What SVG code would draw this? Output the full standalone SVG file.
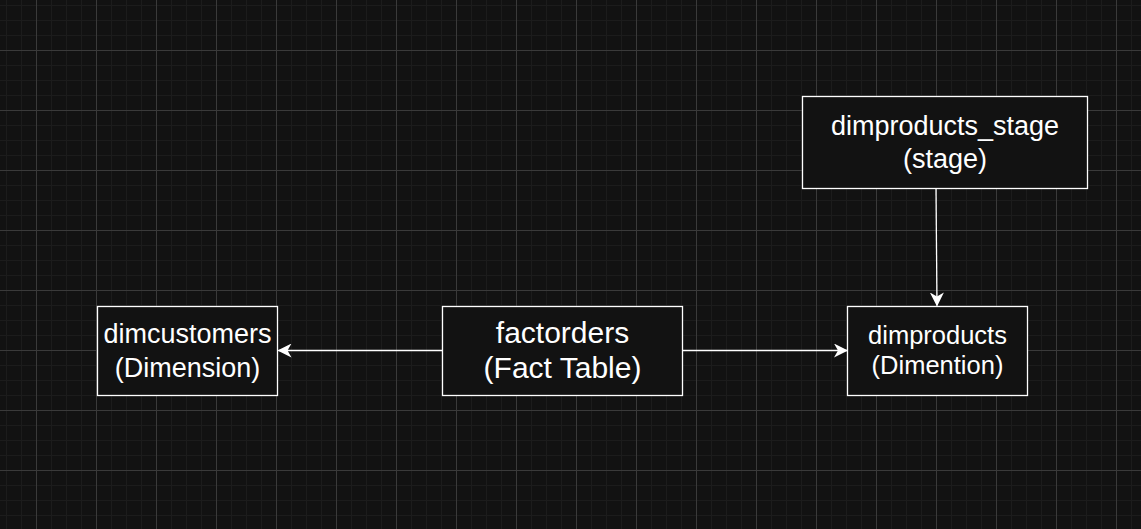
<svg xmlns="http://www.w3.org/2000/svg" width="1141" height="529" viewBox="0 0 1141 529">
<defs>
<pattern id="minor" x="6" y="5" width="15" height="15" patternUnits="userSpaceOnUse">
<path d="M0.5 0V15M0 0.5H15" stroke="#1c1c1c" stroke-width="1" fill="none"/>
</pattern>
<pattern id="major" x="36" y="50" width="60" height="60" patternUnits="userSpaceOnUse">
<path d="M0.5 0V60M0 0.5H60" stroke="#3a3a3a" stroke-width="1" fill="none"/>
</pattern>
<marker id="arr" viewBox="0 0 14 14" refX="13" refY="7" markerWidth="14" markerHeight="14" markerUnits="userSpaceOnUse" orient="auto">
<path d="M0 0L14 7L0 14L4 7Z" fill="#ffffff"/>
</marker>
</defs>
<style>
.box{fill:#121212;stroke:#ffffff;stroke-width:1.3}
.t{fill:#ffffff;font-family:"Liberation Sans",Arial,sans-serif;text-anchor:middle}
.edge{stroke:#ffffff;stroke-width:1.3;fill:none;marker-end:url(#arr)}
</style>
<rect width="1141" height="529" fill="#121212"/>
<rect width="1141" height="529" fill="url(#minor)"/>
<rect width="1141" height="529" fill="url(#major)"/>
<g id="connectors">
<path class="edge" d="M442.5 350.5H278.5"/>
<path class="edge" d="M682.5 350.5H847"/>
<path class="edge" d="M936 189L937 305.5"/>
</g>
<g id="dimcustomers">
<rect class="box" x="97.5" y="306.5" width="180" height="89"/>
<text class="t" x="187.5" y="343" font-size="27">dimcustomers</text>
<text class="t" x="187.5" y="377" font-size="27">(Dimension)</text>
</g>
<g id="factorders">
<rect class="box" x="442.5" y="306.5" width="240" height="89"/>
<text class="t" x="562.5" y="343" font-size="30">factorders</text>
<text class="t" x="562.5" y="378" font-size="30">(Fact Table)</text>
</g>
<g id="dimproducts_stage">
<rect class="box" x="802.5" y="96.5" width="285" height="92"/>
<text class="t" x="945" y="135" font-size="27">dimproducts_stage</text>
<text class="t" x="945" y="168" font-size="27">(stage)</text>
</g>
<g id="dimproducts">
<rect class="box" x="847.5" y="306.5" width="180" height="89"/>
<text class="t" x="937.5" y="344" font-size="25.5">dimproducts</text>
<text class="t" x="937.5" y="374" font-size="25.5">(Dimention)</text>
</g>
</svg>
